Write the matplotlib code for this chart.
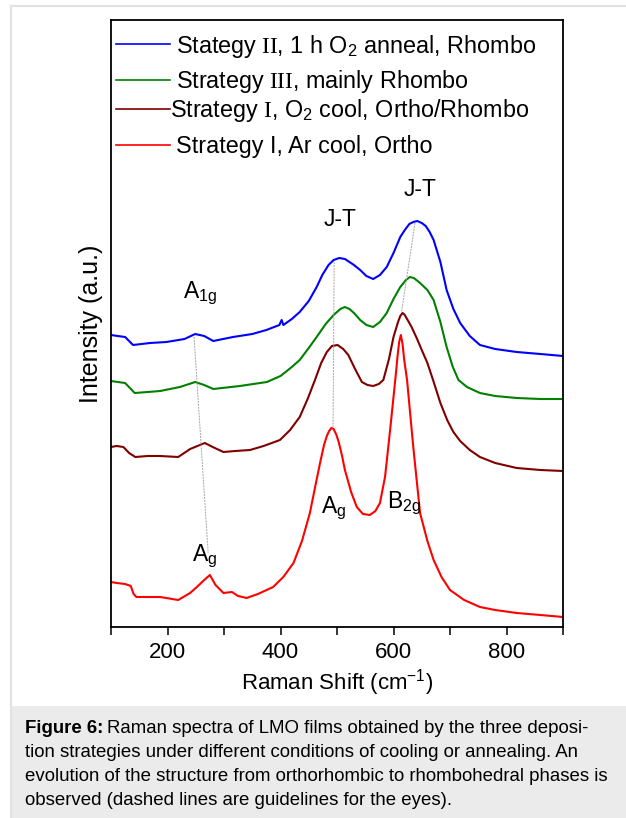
import numpy as np
import matplotlib
matplotlib.use("Agg")
import matplotlib.pyplot as plt
from matplotlib.lines import Line2D
from matplotlib.patches import Rectangle

plt.rcParams['font.family'] = ['Liberation Sans', 'DejaVu Sans']
plt.rcParams['mathtext.fontset'] = 'custom'
plt.rcParams['mathtext.rm'] = 'Liberation Sans'
plt.rcParams['mathtext.it'] = 'Liberation Sans'
plt.rcParams['mathtext.bf'] = 'Liberation Sans:bold'
plt.rcParams['mathtext.cal'] = 'Liberation Serif'

# spectra (intensity in arbitrary units)
blue_x = [100, 112, 125, 139, 169, 198, 230, 249, 265, 281, 316, 350, 375, 398, 402, 405, 420, 434, 450,
          464, 474, 485, 494, 504, 514, 522, 530, 541, 552, 564, 576, 588, 600, 612, 620, 628, 635, 642,
          650, 657, 664, 671, 683, 694, 706, 718, 735, 753, 780, 818, 860, 900]
blue_y = [292, 291, 290, 282, 284, 285, 288, 293, 291, 286, 290, 293, 297, 302, 307, 302, 308, 315, 326,
          340, 352, 362, 367, 369, 368, 365, 362, 357, 351, 348, 352, 360, 374, 390, 397, 403, 405, 406,
          404, 401, 395, 387, 365, 337, 318, 304, 291, 282, 278, 275, 273, 271]

green_x = [100, 112, 125, 142, 165, 187, 222, 249, 265, 281, 328, 376, 400, 420, 434, 450, 464, 480, 494,
           506, 514, 522, 530, 541, 552, 564, 576, 588, 600, 612, 622, 629, 636, 647, 660, 671, 683, 694,
           705, 715, 730, 753, 780, 818, 860, 900]
green_y = [246, 245, 244, 234, 235, 236, 240, 245, 242, 238, 241, 245, 251, 260, 267, 279, 290, 303, 312,
           318, 320, 318, 314, 307, 302, 300, 305, 314, 328, 340, 347, 350, 349, 344, 337, 327, 305, 280,
           260, 247, 240, 234, 231, 229, 228, 228]

maroon_x = [100, 110, 122, 132, 143, 165, 187, 219, 240, 266, 280, 299, 320, 346, 370, 399, 417, 434, 448,
            461, 472, 482, 491, 501, 511, 520, 532, 544, 554, 564, 574, 582, 592, 600, 608, 612, 616, 620,
            626, 632, 641, 650, 660, 670, 683, 695, 706, 718, 735, 753, 780, 818, 860, 900]
maroon_y = [180, 181, 180, 174, 170, 171, 171, 170, 178, 184, 180, 175, 176, 177, 181, 187, 197, 210, 228,
            247, 264, 275, 281, 282, 278, 272, 258, 245, 242, 241, 243, 247, 268, 290, 305, 311, 314, 312,
            306, 300, 289, 277, 264, 247, 224, 207, 195, 186, 177, 170, 164, 159, 157, 156]

red_x = [100, 110, 125, 135, 140, 145, 165, 187, 219, 240, 252, 265, 275, 285, 299, 314, 325, 340, 360,
         387, 405, 423, 438, 452, 462, 470, 477, 482, 486, 490, 494, 499, 503, 509, 514, 525, 535, 546,
         558, 568, 576, 585, 594, 600, 604, 607, 610, 613, 616, 619, 624, 635, 647, 660, 671, 685, 700,
         725, 753, 780, 818, 860, 900]
red_y = [45, 44, 43, 41, 33, 30, 30, 30, 27, 34, 40, 47, 52, 42, 34, 35, 31, 29, 33,
         40, 50, 64, 86, 114, 142, 164, 182, 191, 196, 199, 198, 192, 185, 171, 157, 135, 120, 113,
         112, 116, 124, 150, 197, 230, 252, 270, 285, 292, 283, 267, 247, 180, 114, 86, 67, 50, 37,
         27, 20, 17, 14, 12, 10]

series = [
    (blue_x, blue_y, '#0000ff'),
    (green_x, green_y, '#008000'),
    (maroon_x, maroon_y, '#800000'),
    (red_x, red_y, '#ff0000'),
]

legend_labels = [
    r"Stategy $\mathcal{II}$, 1 h O$_2$ anneal, Rhombo",
    r"Strategy $\mathcal{III}$, mainly Rhombo",
    r"Strategy $\mathcal{I}$, O$_2$ cool, Ortho/Rhombo",
    "Strategy I, Ar cool, Ortho",
]

# guide lines for the eyes
guide_lines = [
    ([247, 272], [290, 74]),
    ([495, 493], [365, 200]),
    ([638, 614], [404, 314]),
]

caption_lines = [
    "Raman spectra of LMO films obtained by the three deposi-",
    "tion strategies under different conditions of cooling or annealing. An",
    "evolution of the structure from orthorhombic to rhombohedral phases is",
    "observed (dashed lines are guidelines for the eyes).",
]

W, H = 626, 818


def fx(px):
    return px / W


def fy(py):
    return 1 - py / H


fig = plt.figure(figsize=(W / 100, H / 100), dpi=100)

# page frame and caption box
fig.add_artist(Line2D([fx(11), 1], [fy(6), fy(6)], color='#e2e2e2', lw=1.5))
fig.add_artist(Line2D([fx(11), fx(11)], [fy(6), 0], color='#e2e2e2', lw=1.5))
fig.add_artist(Rectangle((fx(11), 0), 1 - fx(11), fy(706), color='#ebebeb', lw=0))

ax = fig.add_axes([fx(111), fy(627), fx(563) - fx(111), fy(20) - fy(627)])

for (x, y, c) in series:
    ax.plot(x, y, color=c, lw=1.5)

for (gx, gy) in guide_lines:
    ax.plot(gx, gy, color='0.65', lw=0.7, ls=(0, (2, 1)))

ax.set_xlim(100, 900)
ax.set_ylim(0, 607)
ax.set_xticks([200, 400, 600, 800])
ax.set_xticks([100, 300, 500, 700, 900], minor=True)
ax.tick_params(axis='x', which='both', direction='out', length=6, width=1.1, labelsize=16, pad=5)
ax.set_yticks([])
for s in ax.spines.values():
    s.set_linewidth(1.3)

ax.set_xlabel(r"Raman Shift (cm$^{-1}$)", fontsize=16, labelpad=3)
ax.set_ylabel("Intensity (a.u.)", fontsize=18, labelpad=6)

# peak labels
ax.text(647, 438, "J-T", fontsize=16.5, ha='center', va='center')
ax.text(506, 407, "J-T", fontsize=16.5, ha='center', va='center')
ax.text(227, 329, r"A$_{1g}$", fontsize=16.5, ha='left', va='baseline')
ax.text(243, 66, r"A$_g$", fontsize=16.5, ha='left', va='baseline')
ax.text(471, 114, r"A$_g$", fontsize=16.5, ha='left', va='baseline')
ax.text(588, 119, r"B$_{2g}$", fontsize=16.5, ha='left', va='baseline')

# legend drawn by hand to keep the uneven rows
leg_rows = [(43.5, 52.7, 176), (80, 88.3, 176), (108.5, 117.3, 169.5), (144.5, 152.7, 176)]
for (lab, (_, _, c), (ly, tb, tx)) in zip(legend_labels, series, leg_rows):
    fig.add_artist(Line2D([fx(116), fx(170)], [fy(ly), fy(ly)], color=c, lw=1.2))
    fig.text(fx(tx), fy(tb), lab, fontsize=16.8, va='baseline', ha='left')

# caption
cap_x, cap_y0, cap_dy, cap_fs = 25, 733, 24, 13.4
t1 = fig.text(fx(cap_x), fy(cap_y0), "Figure 6:", fontsize=cap_fs, weight='bold', va='baseline')
fig.canvas.draw()
bb = t1.get_window_extent()
fig.text((bb.x1 + 4) / W, fy(cap_y0), caption_lines[0], fontsize=cap_fs, va='baseline')
for i, line in enumerate(caption_lines[1:]):
    fig.text(fx(cap_x), fy(cap_y0 + cap_dy * (i + 1)), line, fontsize=cap_fs, va='baseline')

fig.savefig("out.png", dpi=100)
